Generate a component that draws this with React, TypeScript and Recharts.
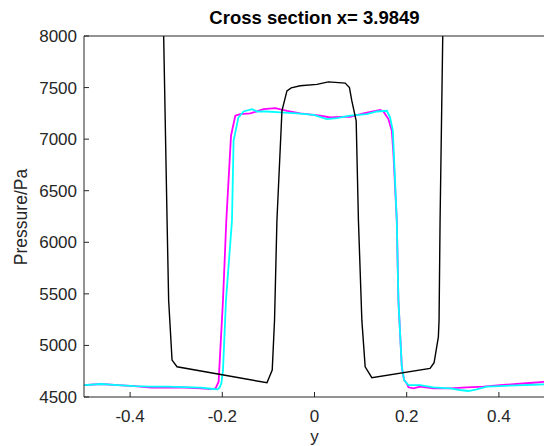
import React from 'react';
import { LineChart, Line, XAxis, YAxis } from 'recharts';

// cross-section position (y) and pressure (Pa)
const blackY = [-0.5, -0.346, -0.3272, -0.3198, -0.3164, -0.309, -0.2982, -0.1031, -0.0917, -0.0867, -0.0815, -0.0706, -0.0598, -0.0505, -0.031, 0.0052, 0.0303, 0.0665, 0.0758, 0.081, 0.0904, 0.0953, 0.1027, 0.1099, 0.1244, 0.2507, 0.2594, 0.2687, 0.2702, 0.2724, 0.2782, 0.2888, 0.5];
const blackP = [14000, 11240, 8000, 6211, 5438, 4858, 4793, 4638, 4761, 5245, 6211, 7275, 7468, 7497, 7517, 7531, 7555, 7543, 7500, 7371, 7178, 6211, 5245, 4793, 4687, 4778, 4832, 5083, 5245, 6211, 8000, 11240, 14000];

const magentaY = [-0.5, -0.4628, -0.4269, -0.3907, -0.3545, -0.3185, -0.2823, -0.2462, -0.2245, -0.2145, -0.208, -0.1985, -0.1913, -0.1811, -0.1718, -0.161, -0.1393, -0.1105, -0.0852, -0.0598, -0.031, 0.0124, 0.034, 0.0557, 0.0774, 0.1062, 0.1424, 0.1495, 0.1603, 0.1677, 0.1712, 0.1785, 0.182, 0.1894, 0.1944, 0.2002, 0.2037, 0.2145, 0.229, 0.2579, 0.294, 0.3302, 0.3662, 0.4024, 0.4386, 0.4745, 0.5];
const magentaP = [4616, 4626, 4616, 4606, 4590, 4590, 4592, 4584, 4576, 4584, 4648, 5438, 6211, 7033, 7227, 7243, 7249, 7291, 7301, 7275, 7249, 7227, 7210, 7215, 7217, 7249, 7282, 7268, 7195, 7082, 6856, 6211, 5438, 4793, 4664, 4632, 4594, 4584, 4600, 4584, 4584, 4594, 4600, 4616, 4626, 4638, 4648];

const cyanY = [-0.5, -0.4628, -0.4269, -0.3907, -0.3545, -0.3185, -0.2823, -0.2462, -0.2245, -0.2102, -0.2059, -0.202, -0.1985, -0.192, -0.179, -0.1755, -0.1653, -0.1538, -0.1356, -0.1248, -0.1031, -0.0743, -0.0381, -0.0022, 0.0269, 0.0485, 0.0774, 0.1135, 0.1352, 0.1569, 0.164, 0.1699, 0.1785, 0.182, 0.1894, 0.1944, 0.2037, 0.229, 0.2579, 0.294, 0.3157, 0.3337, 0.3519, 0.3736, 0.4024, 0.4386, 0.4745, 0.5];
const cyanP = [4616, 4626, 4616, 4606, 4600, 4600, 4596, 4590, 4580, 4574, 4590, 4632, 4761, 5438, 6211, 6985, 7207, 7268, 7291, 7268, 7268, 7259, 7249, 7236, 7195, 7204, 7227, 7243, 7268, 7275, 7210, 7082, 6211, 5438, 4793, 4664, 4616, 4616, 4594, 4584, 4568, 4558, 4574, 4600, 4606, 4613, 4619, 4623];

const xTicks = [-0.4, -0.2, 0, 0.2, 0.4];
const pTicks = [4500, 5000, 5500, 6000, 6500, 7000, 7500, 8000];

const toPoints = (ys: number[], ps: number[]) => ys.map((y, i) => ({ y, p: ps[i] }));

const blackData = toPoints(blackY, blackP);
const magentaData = toPoints(magentaY, magentaP);
const cyanData = toPoints(cyanY, cyanP);

const FONT = '"Liberation Sans", Arial, Helvetica, sans-serif';
const AXIS = '#262626';

const fmtX = (v: number) => (v === 0 ? '0' : String(v));

export default function App() {
  return (
    <div
      style={{
        position: 'absolute',
        left: 0,
        top: 0,
        width: 544,
        height: 446,
        overflow: 'hidden',
        background: '#fff',
        fontFamily: FONT,
      }}
    >
      <LineChart width={546} height={446} margin={{ top: 0, right: 0, bottom: 0, left: 0 }}>
        <XAxis
          type="number"
          dataKey="y"
          domain={[-0.5, 0.5]}
          ticks={xTicks}
          interval={0}
          allowDataOverflow
          height={49}
          tickSize={-5}
          tickMargin={18}
          stroke={AXIS}
          tick={{ fill: AXIS, fontSize: 17, fontFamily: FONT }}
          tickFormatter={fmtX}
        />
        <XAxis
          xAxisId="top"
          orientation="top"
          type="number"
          domain={[-0.5, 0.5]}
          ticks={xTicks}
          interval={0}
          height={36}
          tickSize={-5}
          stroke={AXIS}
          tick={false}
        />
        <YAxis
          type="number"
          domain={[4500, 8000]}
          ticks={pTicks}
          interval={0}
          allowDataOverflow
          width={84}
          tickSize={-5}
          tickMargin={12}
          stroke={AXIS}
          tick={{ fill: AXIS, fontSize: 17, fontFamily: FONT }}
        />
        <YAxis
          yAxisId="r"
          orientation="right"
          type="number"
          domain={[4500, 8000]}
          ticks={pTicks}
          interval={0}
          width={1}
          tickSize={-5}
          stroke={AXIS}
          tick={false}
        />
        <Line data={magentaData} dataKey="p" type="linear" stroke="#ff00ff" strokeWidth={1.8} dot={false} isAnimationActive={false} />
        <Line data={cyanData} dataKey="p" type="linear" stroke="#00ffff" strokeWidth={1.8} dot={false} isAnimationActive={false} />
        <Line data={blackData} dataKey="p" type="linear" stroke="#000000" strokeWidth={1.4} dot={false} isAnimationActive={false} />
      </LineChart>
      <div
        style={{
          position: 'absolute',
          left: 164.5,
          top: 9.3,
          width: 300,
          textAlign: 'center',
          fontSize: 18.5,
          lineHeight: '18.5px',
          fontWeight: 'bold',
          color: '#000',
          whiteSpace: 'nowrap',
        }}
      >
        Cross section x= 3.9849
      </div>
      <div
        style={{
          position: 'absolute',
          left: 22,
          top: 216.5,
          transform: 'translate(-50%, -50%) rotate(-90deg)',
          fontSize: 17.5,
          lineHeight: '17.5px',
          color: AXIS,
          whiteSpace: 'nowrap',
        }}
      >
        Pressure/Pa
      </div>
      <div
        style={{
          position: 'absolute',
          left: 264.5,
          top: 427.6,
          width: 100,
          textAlign: 'center',
          fontSize: 17,
          lineHeight: '17px',
          color: AXIS,
        }}
      >
        y
      </div>
    </div>
  );
}
